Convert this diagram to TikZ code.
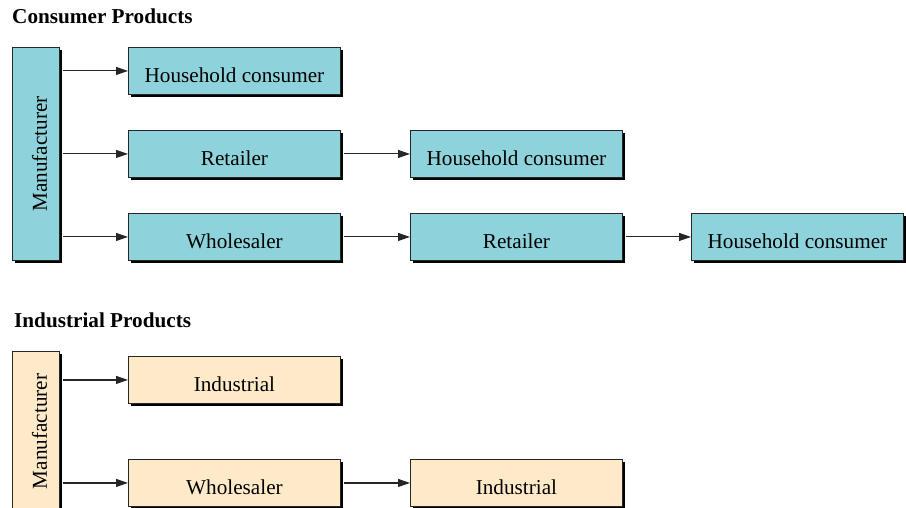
\documentclass[tikz,border=0pt]{standalone}
\usepackage{fontspec}
\setmainfont{Liberation Serif}
\usetikzlibrary{shadows,arrows.meta}
\definecolor{teal}{RGB}{142,211,219}
\definecolor{cream}{RGB}{254,234,200}
\newcommand{\mfr}{\rotatebox{90}{\raisebox{0pt}[22pt][0pt]{Manufacturer}}}
\tikzset{
  box/.style={draw=black!85, line width=0.9pt, minimum width=212pt, minimum height=47pt,
    inner sep=0pt, anchor=north west, font=\fontsize{21.2}{25}\selectfont,
    general shadow={shadow xshift=3pt, shadow yshift=-3pt, fill=black}},
  cbox/.style={box, fill=teal, text height=24pt, text depth=0pt},
  ibox/.style={box, fill=cream, text height=24pt, text depth=0pt},
  mbox/.style={box, minimum width=47pt},
  conn/.style={line width=1.1pt, black!85, -{Triangle[length=12pt,width=8pt]}},
  title/.style={anchor=base west, inner sep=0pt, font=\bfseries\fontsize{21.2}{25}\selectfont}
}
\begin{document}
\begin{tikzpicture}[x=1pt,y=-1pt]
\useasboundingbox (0,0) rectangle (906,508);
\clip (0,0) rectangle (906,508);
\node[title] (t1) at (12,24) {Consumer Products};
\node[title] (t2) at (14,327) {Industrial Products};
% consumer
\node[mbox, fill=teal, minimum height=213pt] (m1) at (12,47) {\mfr};
\node[cbox] (a1) at (128,47) {Household consumer};
\node[cbox] (b1) at (128,130) {Retailer};
\node[cbox] (b2) at (410,130) {Household consumer};
\node[cbox] (c1) at (128,213) {Wholesaler};
\node[cbox] (c2) at (410,213) {Retailer};
\node[cbox] (c3) at (691,213) {Household consumer};
\coordinate (s1) at ([xshift=3pt]m1.east |- a1.west);
\coordinate (s2) at ([xshift=3pt]m1.east |- b1.west);
\coordinate (s3) at ([xshift=3pt]m1.east |- c1.west);
\draw[conn] (s1) -- (a1.west);
\draw[conn] (s2) -- (b1.west);
\draw[conn] (s3) -- (c1.west);
\draw[conn] ([xshift=3pt]b1.east) -- (b2.west);
\draw[conn] ([xshift=3pt]c1.east) -- (c2.west);
\draw[conn] ([xshift=3pt]c2.east) -- (c3.west);
% industrial
\node[mbox, fill=cream, minimum height=160pt] (m2) at (12,351) {\mfr};
\node[ibox] (d1) at (128,356) {Industrial};
\node[ibox] (e1) at (128,459) {Wholesaler};
\node[ibox] (e2) at (410,459) {Industrial};
\coordinate (s4) at ([xshift=3pt]m2.east |- d1.west);
\coordinate (s5) at ([xshift=3pt]m2.east |- e1.west);
\draw[conn] (s4) -- (d1.west);
\draw[conn] (s5) -- (e1.west);
\draw[conn] ([xshift=3pt]e1.east) -- (e2.west);
\end{tikzpicture}
\end{document}
